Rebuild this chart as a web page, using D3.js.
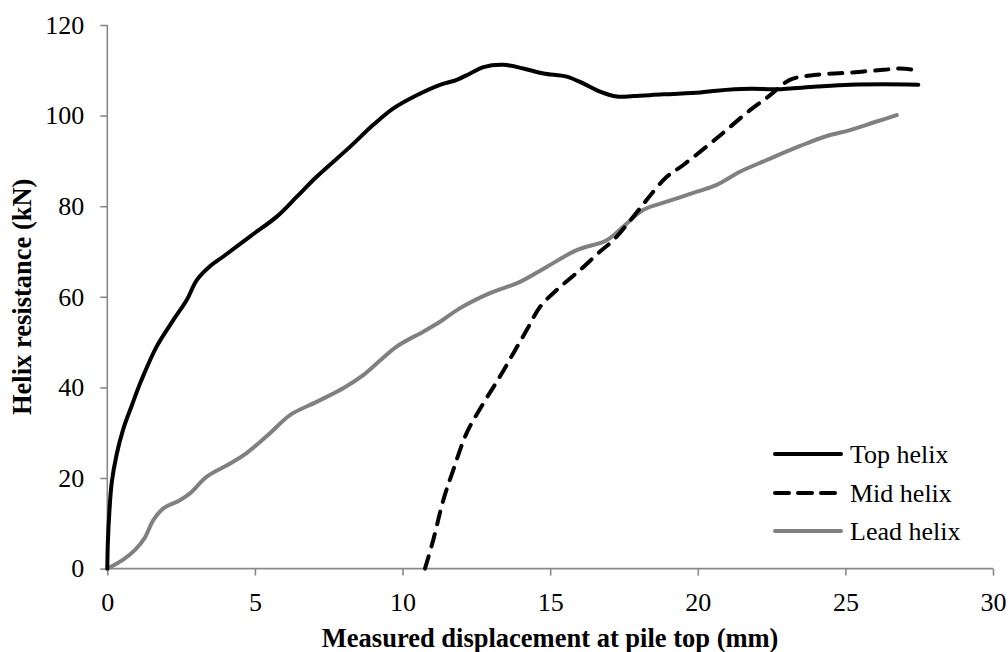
<!DOCTYPE html>
<html>
<head>
<meta charset="utf-8">
<script src="https://cdn.jsdelivr.net/npm/d3@7"></script>
<style>
  html, body { margin: 0; padding: 0; background: #fff; }
  svg { display: block; font-family: "Liberation Serif", "Times New Roman", serif; }
</style>
</head>
<body>
<svg id="chart" width="1008" height="652"></svg>
<script>
// Displacement (mm) and helix resistance (kN) for each helix
const topX  = [0, 0.02, 0.07, 0.15, 0.32, 0.54, 0.83, 1.15, 1.67, 2.24, 2.69, 3.03, 3.45, 3.93, 4.83, 5.74, 6.42, 7.09, 8.22, 9.0, 9.69, 10.48, 11.27, 11.84, 12.29, 12.74, 13.41, 14.09, 14.77, 15.56, 16.12, 16.69, 17.26, 17.82, 18.83, 20.08, 20.64, 21.77, 22.68, 24.03, 25.16, 26.29, 27.47];
const topY  = [0, 6, 12.5, 19, 25.3, 30.8, 36, 41.5, 49, 54.9, 59.3, 63.7, 66.6, 68.9, 73.3, 77.7, 82.1, 86.5, 93.1, 97.9, 101.6, 104.5, 106.8, 107.9, 109.3, 110.7, 111.2, 110.4, 109.3, 108.6, 107.1, 105.3, 104.2, 104.3, 104.7, 105.1, 105.5, 105.9, 105.8, 106.4, 106.8, 106.9, 106.8];

const midX  = [10.76, 11.04, 11.38, 11.72, 12.17, 12.74, 13.3, 13.75, 14.21, 14.66, 15.22, 16.01, 16.69, 17.14, 17.82, 18.27, 18.95, 19.51, 20.64, 21.77, 22.45, 23.12, 24.03, 25.16, 26.29, 26.85, 27.3];
const midY  = [0, 6.3, 15.1, 21.8, 29.9, 36.5, 42.4, 47.5, 52.7, 57.8, 61.5, 65.9, 70, 72.5, 77.7, 81.4, 86.5, 89.1, 95, 101.2, 104.5, 107.9, 109, 109.5, 110.1, 110.4, 110.1];

const leadX = [0, 0.54, 0.95, 1.25, 1.56, 1.9, 2.46, 2.8, 3.37, 4.16, 4.72, 5.51, 6.19, 7.09, 7.99, 8.67, 9.8, 10.7, 11.27, 11.95, 12.96, 13.98, 14.88, 15.9, 16.92, 17.48, 18.16, 18.95, 19.97, 20.64, 21.43, 22.34, 23.47, 24.37, 25.16, 26.06, 26.74];
const leadY = [0, 2, 4.2, 6.6, 10.7, 13.3, 15.1, 16.6, 20.3, 23.2, 25.5, 29.9, 33.9, 36.8, 39.8, 42.7, 49, 52.3, 54.5, 57.5, 60.8, 63.3, 66.6, 70.3, 72.5, 75.5, 79.2, 81, 83.2, 84.7, 87.6, 90.2, 93.3, 95.5, 96.8, 98.7, 100.1];

const seriesNames = ["Top helix", "Mid helix", "Lead helix"];
const xTicks = [0, 5, 10, 15, 20, 25, 30];
const yTicks = [0, 20, 40, 60, 80, 100, 120];

const xTitle = "Measured displacement at pile top (mm)";
const yTitle = "Helix resistance (kN)";

const svg = d3.select("#chart");
const plotLeft = 107.3, plotRight = 993, plotTop = 25, plotBottom = 568.6;

const x = d3.scaleLinear().domain([0, 30]).range([plotLeft, plotRight]);
const y = d3.scaleLinear().domain([0, 120]).range([plotBottom, plotTop]);

const axisColor = "#898989";
const fontSize = 26;

// Axes
const gx = svg.append("g")
  .attr("transform", `translate(0,${plotBottom})`)
  .call(d3.axisBottom(x).tickValues(xTicks).tickSize(7).tickPadding(17).tickFormat(d3.format("d")));
const gy = svg.append("g")
  .attr("transform", `translate(${plotLeft},0)`)
  .call(d3.axisLeft(y).tickValues(yTicks).tickSize(7).tickPadding(16).tickFormat(d3.format("d")));

[gx, gy].forEach(g => {
  g.select(".domain").attr("stroke", axisColor).attr("stroke-width", 1.6);
  g.selectAll(".tick line").attr("stroke", axisColor).attr("stroke-width", 1.6);
  g.selectAll(".tick text")
    .attr("fill", "#000")
    .style("font-family", '"Liberation Serif", "Times New Roman", serif')
    .style("font-size", fontSize + "px");
});
gx.select(".domain").attr("d", `M${plotLeft},0H${plotRight}`);
gy.select(".domain").attr("d", `M0,${plotBottom}V${plotTop}`);

// Axis titles
svg.append("text")
  .attr("x", (plotLeft + plotRight) / 2).attr("y", 647)
  .attr("text-anchor", "middle")
  .style("font-weight", "bold").style("font-size", "26.5px")
  .text(xTitle);
svg.append("text")
  .attr("transform", `translate(31,${(plotTop + plotBottom) / 2}) rotate(-90)`)
  .attr("text-anchor", "middle")
  .style("font-weight", "bold").style("font-size", "26.5px")
  .text(yTitle);

// Curves
const zip = (xs, ys) => xs.map((v, i) => [v, ys[i]]);
const line = d3.line().x(d => x(d[0])).y(d => y(d[1])).curve(d3.curveCatmullRom.alpha(0.5));

const styles = [
  { stroke: "#000", dash: null },
  { stroke: "#000", dash: "13,10" },
  { stroke: "#808080", dash: null }
];
const data = [zip(topX, topY), zip(midX, midY), zip(leadX, leadY)];

const drawOrder = [2, 0, 1];
drawOrder.forEach(i => {
  svg.append("path")
    .datum(data[i])
    .attr("d", line)
    .attr("fill", "none")
    .attr("stroke", styles[i].stroke)
    .attr("stroke-width", 4)
    .attr("stroke-linecap", "round")
    .attr("stroke-linejoin", "round")
    .attr("stroke-dasharray", styles[i].dash);
});

// Legend
const legendRows = [454, 493, 531];
seriesNames.forEach((name, i) => {
  const g = svg.append("g").attr("transform", `translate(0,${legendRows[i]})`);
  g.append("line")
    .attr("x1", 775).attr("x2", 841).attr("y1", 0).attr("y2", 0)
    .attr("stroke", styles[i].stroke)
    .attr("stroke-width", 4)
    .attr("stroke-linecap", "round")
    .attr("stroke-dasharray", styles[i].dash ? "14,9" : null);
  g.append("text")
    .attr("x", 850).attr("y", 0).attr("dy", "0.33em")
    .style("font-size", fontSize + "px")
    .text(name);
});
</script>
</body>
</html>
